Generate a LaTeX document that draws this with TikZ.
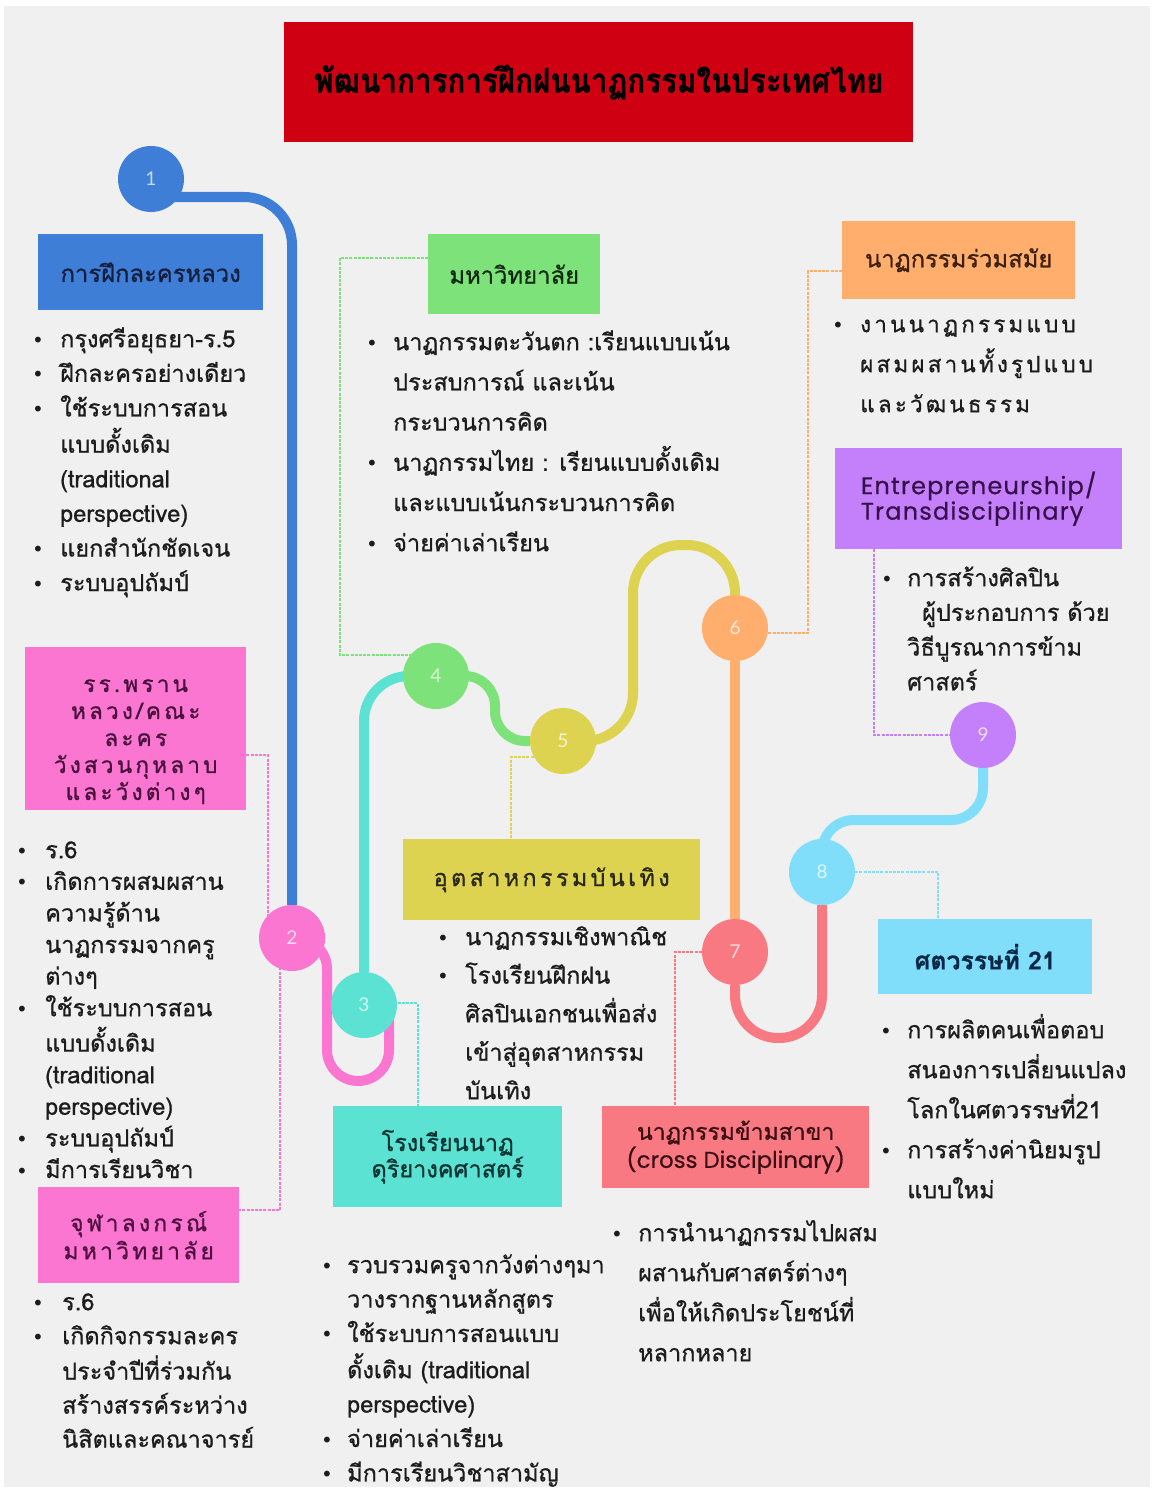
\documentclass[tikz,border=0pt]{standalone}
\usepackage{fontspec}
\usepackage{graphicx}
\usetikzlibrary{calc}
\newfontfamily\thai[Script=Thai,FakeBold=0.8]{Loma}
\newfontfamily\thaisp[Script=Thai,LetterSpace=14,FakeBold=0.8]{Loma}
\newfontfamily\bulfont{DejaVu Sans}
\newfontfamily\geo[FakeBold=0.6]{Poppins}
\newfontfamily\geosp[LetterSpace=5,FakeBold=0.6]{Poppins}
\newfontfamily\numfont{Lato}

\definecolor{paper}{RGB}{240,240,240}
\definecolor{titleRed}{RGB}{206,0,17}
\definecolor{cBlue}{RGB}{62,126,214}
\definecolor{cPink}{RGB}{250,118,208}
\definecolor{cTeal}{RGB}{92,226,210}
\definecolor{cGreen}{RGB}{126,226,122}
\definecolor{cYellow}{RGB}{221,211,80}
\definecolor{cOrange}{RGB}{255,174,110}
\definecolor{cSalmon}{RGB}{248,121,130}
\definecolor{cSky}{RGB}{128,222,250}
\definecolor{cPurple}{RGB}{196,128,250}
\definecolor{ink}{RGB}{28,28,28}

\pgfdeclarelayer{paperlayer}
\pgfdeclarelayer{under}
\pgfsetlayers{paperlayer,under,main}

\newlength\ind
\newcommand\bi[1]{\strut\makebox[\ind][l]{\bulfont\fontsize{20}{20}\selectfont •}#1}
\newcommand\ci[1]{\strut\hspace*{\ind}#1}
\newcommand\setfs[2]{\fontsize{#1}{#2}\selectfont}

\begin{document}
\begin{tikzpicture}[x=1pt,y=-1pt,
  hub/.style={circle, fill=#1, minimum size=66pt, inner sep=0pt,
    text=white!72!#1, font=\numfont\setfs{19}{19}},
  track/.style={draw=#1, line width=10pt},
  leader/.style={draw=#1, line width=1.6pt, dash pattern=on 3pt off 1.2pt},
  tag/.style={fill=#1, inner sep=0pt, anchor=north west, align=center},
  list/.style={anchor=north west, inner sep=0pt, align=left, text=ink}]

\useasboundingbox (0,0) rectangle (1153,1490);

% title banner
\node[fill=titleRed, minimum width=629pt, minimum height=120pt, anchor=north west,
  inner sep=0pt] (title) at (284,22)
  {\scalebox{0.87}[1]{\thai\bfseries\setfs{34}{34}พัฒนาการการฝึกฝนนาฏกรรมในประเทศไทย}};

% numbered stations
\node[hub=cBlue]   (c1) at (151,179) {1};
\node[hub=cPink]   (c2) at (292,938) {2};
\node[hub=cTeal]   (c3) at (364,1005) {3};
\node[hub=cGreen]  (c4) at (436,676) {4};
\node[hub=cYellow] (c5) at (563,741) {5};
\node[hub=cOrange] (c6) at (735,628) {6};
\node[hub=cSalmon] (c7) at (735,952) {7};
\node[hub=cSky]    (c8) at (822,872) {8};
\node[hub=cPurple] (c9) at (983,735) {9};

% heading boxes
\node[tag=cBlue, minimum width=225pt, minimum height=76pt, text={rgb,255:red,20;green,30;blue,60},
  font=\thai\setfs{23.8}{26}] (t1) at (38,234) {การฝึกละครหลวง};
\node[tag=cPink, minimum width=221pt, minimum height=163pt] (t2) at (25,647) {};
\node[align=center, inner sep=0pt, text={rgb,255:red,70;green,15;blue,60},
  font=\thaisp\setfs{22.6}{27}] (t2txt) at ($(t2)+(0,13)$)
  {รร.พราน\\หลวง/คณะ\\ละคร\\วังสวนกุหลาบ\\และวังต่างๆ};
\node[tag=cPink, minimum width=201pt, minimum height=96pt, text={rgb,255:red,80;green,15;blue,65},
  font=\thaisp\setfs{22.9}{28}] (t3) at (38,1187) {จุฬาลงกรณ์\\มหาวิทยาลัย};
\node[tag=cGreen, minimum width=172pt, minimum height=80pt, text={rgb,255:red,20;green,40;blue,20},
  font=\thai\setfs{23.8}{26}] (t4) at (428,234) {มหาวิทยาลัย};
\node[tag=cOrange, minimum width=233pt, minimum height=78pt, text={rgb,255:red,60;green,30;blue,10},
  font=\thai\setfs{23.8}{26}] (t5) at (842,221) {นาฏกรรมร่วมสมัย};
\node[tag=cPurple, minimum width=287pt, minimum height=101pt] (t6) at (835,448) {};
\node[align=left, inner sep=0pt, text={rgb,255:red,55;green,15;blue,75},
  font=\geosp\setfs{24}{23}] (t6txt) at (t6) {Entrepreneurship/\\Transdisciplinary};
\node[tag=cYellow, minimum width=297pt, minimum height=81pt, text={rgb,255:red,40;green,40;blue,20},
  font=\thaisp\setfs{23.5}{26}] (t7) at (403,839) {อุตสาหกรรมบันเทิง};
\node[tag=cTeal, minimum width=229pt, minimum height=101pt, text={rgb,255:red,10;green,50;blue,50},
  font=\thai\setfs{23.5}{25}] (t8) at (333,1106) {โรงเรียนนาฏ\\ดุริยางคศาสตร์};
\node[tag=cSalmon, minimum width=267pt, minimum height=82pt, text={rgb,255:red,60;green,15;blue,20},
  font=\thai\setfs{23}{28}] (t9) at (602,1106) {นาฏกรรมข้ามสาขา\\{\geo\setfs{22.8}{28}(cross Disciplinary)}};
\node[tag=cSky, minimum width=214pt, minimum height=75pt, text={rgb,255:red,10;green,40;blue,70},
  font=\thai\bfseries\setfs{24.8}{26}] (t10) at (878,919) {ศตวรรษที่ 21};

% bullet lists
\setlength\ind{28pt}
\node[list, font=\thai\setfs{23.5}{34.6}] (l1) at (32,322.8)
  {\bi{กรุงศรีอยุธยา-ร.5}\\ \bi{ฝึกละครอย่างเดียว}\\ \bi{ใช้ระบบการสอน}\\
   \ci{แบบดั้งเดิม}\\ \ci{(traditional}\\ \ci{perspective)}\\
   \bi{แยกสำนักชัดเจน}\\ \bi{ระบบอุปถัมป์}};
\setlength\ind{29pt}
\node[list, font=\thai\setfs{23.5}{31.6}] (l2) at (16,835.9)
  {\bi{ร.6}\\ \bi{เกิดการผสมผสาน}\\ \ci{ความรู้ด้าน}\\ \ci{นาฏกรรมจากครู}\\ \ci{ต่างๆ}\\
   \bi{ใช้ระบบการสอน}\\ \ci{แบบดั้งเดิม}\\ \ci{(traditional}\\ \ci{perspective)}\\
   \bi{ระบบอุปถัมป์}\\ \bi{มีการเรียนวิชา}};
\setlength\ind{30pt}
\node[list, font=\thai\setfs{23.5}{34}] (l3) at (32,1286.2)
  {\bi{ร.6}\\ \bi{เกิดกิจกรรมละคร}\\ \ci{ประจำปีที่ร่วมกัน}\\ \ci{สร้างสรรค์ระหว่าง}\\
   \ci{นิสิตและคณาจารย์}};
\setlength\ind{27pt}
\node[list, font=\thai\setfs{23.5}{40.2}] (l4) at (366,321.9)
  {\bi{นาฏกรรมตะวันตก :เรียนแบบเน้น}\\ \ci{ประสบการณ์ และเน้น}\\ \ci{กระบวนการคิด}\\
   \bi{นาฏกรรมไทย : เรียนแบบดั้งเดิม}\\ \ci{และแบบเน้นกระบวนการคิด}\\
   \bi{จ่ายค่าเล่าเรียน}};
\setlength\ind{28pt}
\node[list, font=\thaisp\setfs{22.5}{40}] (l5) at (832,304)
  {\bi{งานนาฏกรรมแบบ}\\ \ci{ผสมผสานทั้งรูปแบบ}\\ \ci{และวัฒนธรรม}};
\setlength\ind{26pt}
\node[list, font=\thai\setfs{23.5}{34.7}] (l6) at (881,561.7)
  {\bi{การสร้างศิลปิน}\\ \ci{\hspace*{15pt}ผู้ประกอบการ ด้วย}\\ \ci{วิธีบูรณาการข้าม}\\
   \ci{ศาสตร์}};
\setlength\ind{28pt}
\node[list, font=\thai\setfs{23.5}{38.5}] (l7) at (437,918)
  {\bi{นาฏกรรมเชิงพาณิช}\\ \bi{โรงเรียนฝึกฝน}\\ \ci{ศิลปินเอกชนเพื่อส่ง}\\
   \ci{เข้าสู่อุตสาหกรรม}\\ \ci{บันเทิง}};
\setlength\ind{26pt}
\node[list, font=\thai\setfs{23.5}{34.4}] (l8) at (321,1248.9)
  {\bi{รวบรวมครูจากวังต่างๆมา}\\ \ci{วางรากฐานหลักสูตร}\\ \bi{ใช้ระบบการสอนแบบ}\\
   \ci{ดั้งเดิม (traditional}\\ \ci{perspective)}\\ \bi{จ่ายค่าเล่าเรียน}\\
   \bi{มีการเรียนวิชาสามัญ}};
\setlength\ind{27pt}
\node[list, font=\thai\setfs{23.5}{40}] (l9) at (611,1213)
  {\bi{การนำนาฏกรรมไปผสม}\\ \ci{ผสานกับศาสตร์ต่างๆ}\\ \ci{เพื่อให้เกิดประโยชน์ที่}\\
   \ci{หลากหลาย}};
\node[list, font=\thai\setfs{23.5}{40}] (l10) at (880,1010)
  {\bi{การผลิตคนเพื่อตอบ}\\ \ci{สนองการเปลี่ยนแปลง}\\ \ci{โลกในศตวรรษที่21}\\
   \bi{การสร้างค่านิยมรูป}\\ \ci{แบบใหม่}};

% page
\begin{pgfonlayer}{paperlayer}
  \fill[white] (0,0) rectangle (1153,1490);
  \fill[paper] (4,6) rectangle (1150,1487);
\end{pgfonlayer}

\begin{pgfonlayer}{under}
  % thick tracks joining the stations
  \draw[track=cBlue, rounded corners=48pt] ($(c1)+(0,18)$) -| (c2);
  \draw[track=cPink, rounded corners=31pt] (c2) -| (327,1081) -| (389,1015);
  \draw[track=cTeal, rounded corners=45pt] (c3) |- (c4);
  \draw[track=cGreen, rounded corners=30pt] (c4) -| (495,741) -- (c5);
  \draw[track=cYellow, rounded corners=48pt] (c5) -| (633,545) -| (c6);
  \draw[track=cOrange] (c6) -- (c7);
  \draw[track=cSalmon, rounded corners=43pt] (c7) |- (822,1038) -- (c8);
  \draw[track=cSky, rounded corners=32pt] (c8) |- (983,820) -- (c9);

  % dashed leaders from stations to their headings
  \draw[leader=cPink] ($(t2.north east)+(0,108)$) -| ($(c2)+(-24,0)$);
  \draw[leader=cPink] ($(c2)+(-12,0)$) |- ($(t3.north east)+(0,23)$);
  \draw[leader=cGreen] ($(t4.north west)+(0,24)$) -| ($(c4)+(-96,-21)$) -- ($(c4)+(0,-21)$);
  \draw[leader=cOrange] ($(t5.north west)+(0,50)$) -| ($(c6)+(73,5)$) -- ($(c6)+(0,5)$);
  \draw[leader=cPurple] ($(t6.south west)+(39,0)$) |- (c9);
  \draw[leader=cYellow] ($(c5)+(0,16)$) -| ($(t7.north west)+(108,0)$);
  \draw[leader=cTeal] ($(c3)+(0,-2)$) -| ($(t8.north west)+(85,0)$);
  \draw[leader=cSalmon] (c7) -| ($(t9.north west)+(73,0)$);
  \draw[leader=cSky] (c8) -| ($(t10.north west)+(60,0)$);
\end{pgfonlayer}
\end{tikzpicture}
\end{document}
